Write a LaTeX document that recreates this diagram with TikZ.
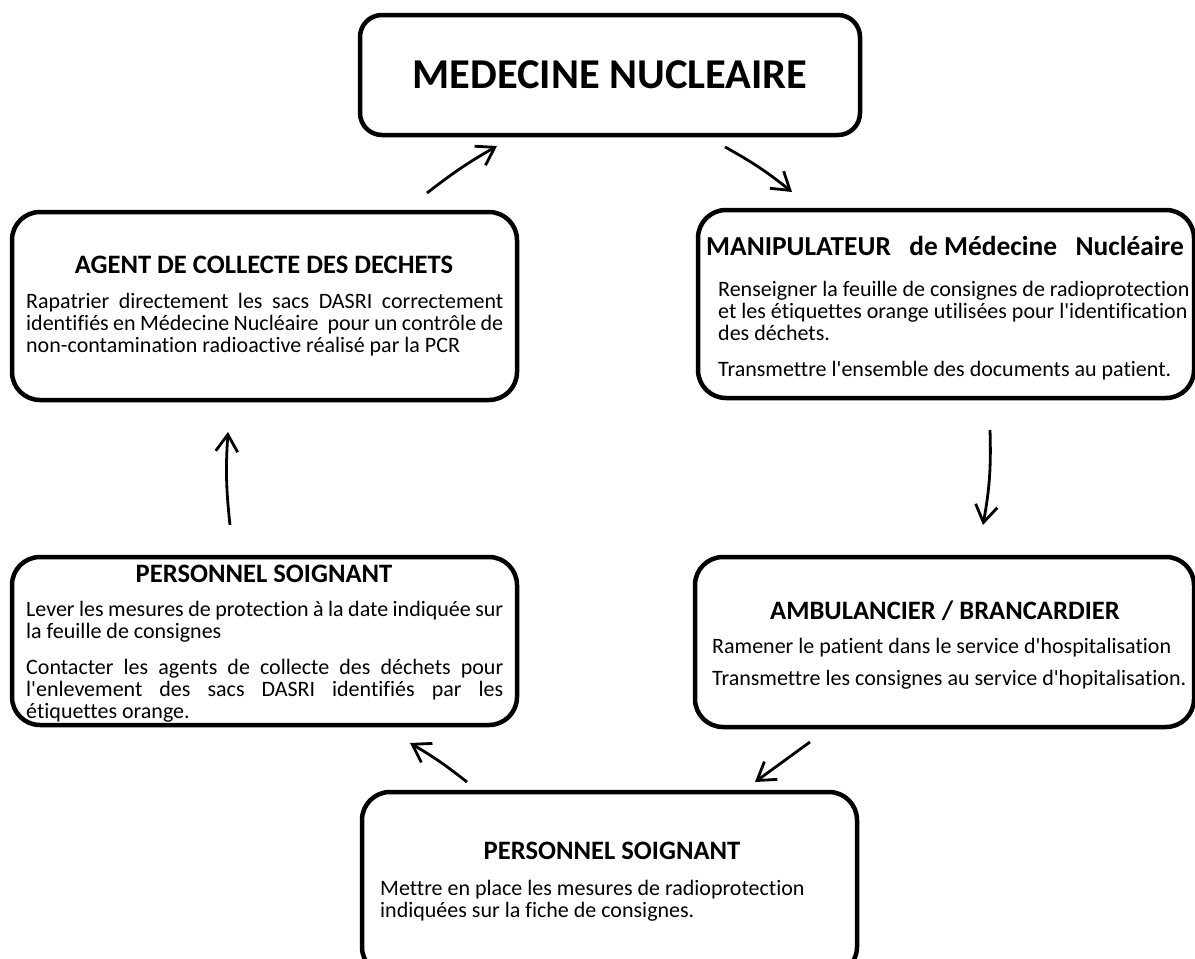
\documentclass[tikz,border=0pt]{standalone}
\usepackage{fontspec}
\setmainfont{Carlito}[Ligatures={TeXOff,NoCommon}]
\usetikzlibrary{arrows.meta,positioning}
\newcommand\spreadline[1]{\makebox[477pt][s]{#1}}
\tikzset{
  stage/.style={draw, line width=4.5pt, rounded corners=28pt, inner sep=0pt},
  stagetitle/.style={font=\fontsize{26.6}{30}\selectfont\bfseries, inner sep=0pt},
  stagebody/.style={font=\fontsize{22}{22}\selectfont, inner sep=0pt, align=left, anchor=north west},
  flow/.style={line width=2.8pt, -{Straight Barb[length=17pt,width=22pt]}},
}
\begin{document}
\begin{tikzpicture}[x=1pt,y=-1pt]
  \clip (0,0) rectangle (1195,959);
  \fill[white] (0,0) rectangle (1195,959);
  % boxes
  \node[stage, minimum width=500pt, minimum height=120pt, rounded corners=22pt] (med) at (610,75) {};
  \node[stage, minimum width=505pt, minimum height=188pt] (agent) at (264.5,306) {};
  \node[stage, minimum width=496pt, minimum height=188pt] (manip) at (946,304) {};
  \node[stage, minimum width=505pt, minimum height=168pt] (persL) at (264.5,641) {};
  \node[stage, minimum width=499pt, minimum height=170pt] (ambu) at (944.5,642) {};
  \node[stage, minimum width=495pt, minimum height=183pt] (persB) at (609.5,883.5) {};
  % titles
  \node[stagetitle, font=\fontsize{42.5}{46}\selectfont\bfseries] (medT) at (610,75) {MEDECINE NUCLEAIRE};
  \node[stagetitle] (agentT) at (264,265) {AGENT DE COLLECTE DES DECHETS};
  \node[stagetitle, font=\fontsize{27.4}{30}\selectfont\bfseries] (manipT) at (945,246) {MANIPULATEUR\hspace{0.45em} de Médecine\hspace{0.45em} Nucléaire};
  \node[stagetitle] (persLT) at (264,574) {PERSONNEL SOIGNANT};
  \node[stagetitle] (ambuT) at (945,611) {AMBULANCIER / BRANCARDIER};
  \node[stagetitle] (persBT) at (612,851) {PERSONNEL SOIGNANT};
  % texts
  \node[stagebody] (agentB) at (26,293) {\spreadline{Rapatrier directement les sacs DASRI correctement}\\
    \spreadline{identifiés en Médecine Nucléaire~ pour un contrôle de}\\
    non-contamination radioactive réalisé par la PCR};
  \node[stagebody] (manipB) at (718,281) {Renseigner la feuille de consignes de radioprotection\\
    et les étiquettes orange utilisées pour l'identification\\
    des déchets.\\[14pt]
    Transmettre l'ensemble des documents au patient.};
  \node[stagebody] (persLB) at (26,601) {\spreadline{Lever les mesures de protection à la date indiquée sur}\\
    la feuille de consignes\\[14pt]
    \spreadline{Contacter les agents de collecte des déchets pour}\\
    \spreadline{l'enlevement des sacs DASRI identifiés par les}\\
    étiquettes orange.};
  \node[stagebody] (ambuB) at (712,638) {Ramener le patient dans le service d'hospitalisation\\[10pt]
    Transmettre les consignes au service d'hopitalisation.};
  \node[stagebody] (persBB) at (380,880) {Mettre en place les mesures de radioprotection\\
    indiquées sur la fiche de consignes.};
  % arrows
  \coordinate (a1s) at (427,193); \coordinate (a1e) at (497,146);
  \coordinate (a2s) at (725,147); \coordinate (a2e) at (792,192);
  \coordinate (a3s) at (990,430); \coordinate (a3e) at (983,525);
  \coordinate (a4s) at (810,742); \coordinate (a4e) at (755,782);
  \coordinate (a5s) at (467,782); \coordinate (a5e) at (410,743);
  \coordinate (a6s) at (230,525); \coordinate (a6e) at (228,432);
  \draw[flow] (a1s) to[bend left=4] (a1e);
  \draw[flow] (a2s) to[bend left=5] (a2e);
  \draw[flow] (a3s) to[bend left=6] (a3e);
  \draw[flow] (a4s) -- (a4e);
  \draw[flow] (a5s) to[bend right=4] (a5e);
  \draw[flow] (a6s) to[bend left=5] (a6e);
\end{tikzpicture}
\end{document}
